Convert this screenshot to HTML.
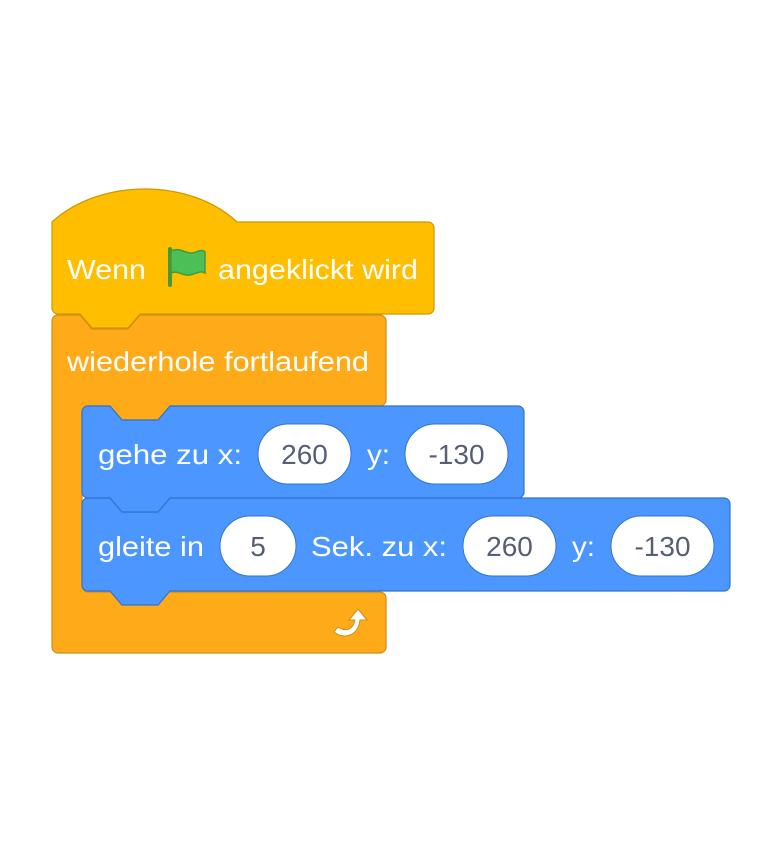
<!DOCTYPE html>
<html><head><meta charset="utf-8"><style>
html,body{margin:0;padding:0;background:#fff;}
svg{display:block;}
text{font-family:"Liberation Sans",Arial,sans-serif;font-size:28px;fill:#fff;}
.in{fill:#575E75;text-anchor:middle;font-size:28px;}
</style></head><body>
<svg width="780" height="845" viewBox="0 0 780 845" xmlns="http://www.w3.org/2000/svg">
<path d="M52,321 a6,6 0 0 1 6,-6 H80 l12,14 H128 l12,-14 H380 a6,6 0 0 1 6,6 V400 a6,6 0 0 1 -6,6 H170 l-12,14 H122 l-12,-14 H88 a6,6 0 0 0 -6,6 V586 a6,6 0 0 0 6,6 H380 a6,6 0 0 1 6,6 V647 a6,6 0 0 1 -6,6 H58 a6,6 0 0 1 -6,-6 Z" fill="#FFAB19" stroke="#CF8B17" stroke-width="1.2"/>
<path d="M52,222 C100,178 190,178 237,222 H428 a6,6 0 0 1 6,6 V308 a6,6 0 0 1 -6,6 H140 l-12,14 H92 l-12,-14 H58 a6,6 0 0 1 -6,-6 Z" fill="#FFBF00" stroke="#CC9900" stroke-width="1.2"/>
<path d="M82,504 a6,6 0 0 1 6,-6 H110 l12,14 H158 l12,-14 H724 a6,6 0 0 1 6,6 V585 a6,6 0 0 1 -6,6 H170 l-12,14 H122 l-12,-14 H88 a6,6 0 0 1 -6,-6 Z" fill="#4C97FF" stroke="#3373CC" stroke-width="1.2"/>
<path d="M82,412 a6,6 0 0 1 6,-6 H110 l12,14 H158 l12,-14 H518 a6,6 0 0 1 6,6 V492 a6,6 0 0 1 -6,6 H170 l-12,14 H122 l-12,-14 H88 a6,6 0 0 1 -6,-6 Z" fill="#4C97FF" stroke="#3373CC" stroke-width="1.2"/>

<text x="67" y="279" textLength="79" lengthAdjust="spacingAndGlyphs">Wenn</text>
<g>
<path d="M170,249 V285" stroke="#45993D" stroke-width="4" stroke-linecap="round"/>
<path d="M171,251 C180,246 187,256 196,252 C200,250 204,250 205,252 V273 C200,270 196,274 190,275 C182,276 178,270 171,273 Z" fill="#4CBF56" stroke="#45993D" stroke-width="1.5"/>
</g>
<text x="218" y="279" textLength="200" lengthAdjust="spacingAndGlyphs">angeklickt wird</text>
<text x="67" y="371" textLength="302" lengthAdjust="spacingAndGlyphs">wiederhole fortlaufend</text>

<text x="98" y="464" textLength="144" lengthAdjust="spacingAndGlyphs">gehe zu x:</text>
<rect x="258" y="424" width="93" height="60" rx="30" fill="#fff" stroke="#3373CC" stroke-width="1"/>
<text class="in" x="304.5" y="464">260</text>
<text x="367" y="464" textLength="23" lengthAdjust="spacingAndGlyphs">y:</text>
<rect x="405" y="424" width="103" height="60" rx="30" fill="#fff" stroke="#3373CC" stroke-width="1"/>
<text class="in" x="456.5" y="464">-130</text>

<text x="98" y="556" textLength="106" lengthAdjust="spacingAndGlyphs">gleite in</text>
<rect x="220" y="516" width="76" height="60" rx="30" fill="#fff" stroke="#3373CC" stroke-width="1"/>
<text class="in" x="258" y="556">5</text>
<text x="311" y="556" textLength="136" lengthAdjust="spacingAndGlyphs">Sek. zu x:</text>
<rect x="463" y="516" width="93" height="60" rx="30" fill="#fff" stroke="#3373CC" stroke-width="1"/>
<text class="in" x="509.5" y="556">260</text>
<text x="572" y="556" textLength="23" lengthAdjust="spacingAndGlyphs">y:</text>
<rect x="611" y="516" width="103" height="60" rx="30" fill="#fff" stroke="#3373CC" stroke-width="1"/>
<text class="in" x="662.5" y="556">-130</text>

<path d="M334,632 C344,640 358,636 360,620 H367 L358,609 L349,620 H355 C353,630 345,632 338,627 Z" fill="#fff" stroke="#CF8B17" stroke-width="1"/>
</svg>
</body></html>
